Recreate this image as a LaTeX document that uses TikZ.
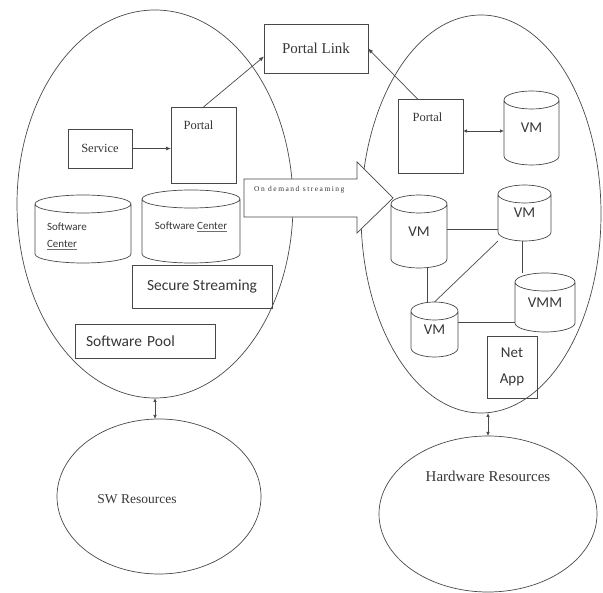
\documentclass[tikz,border=0pt]{standalone}
\usepackage{fontspec}
\usepackage{tikz}
\setmainfont{Liberation Serif}
\newfontfamily\calibfont{Carlito}
\newfontfamily\streamfont[LetterSpace=20]{Liberation Serif}
\usetikzlibrary{shapes.geometric,arrows.meta}
\definecolor{inkgray}{RGB}{72,72,72}
\definecolor{inktext}{RGB}{55,55,55}
\definecolor{spellred}{RGB}{205,70,70}
\newcommand{\drumry}{9pt}
\newcommand{\spellmark}[1]{\textcolor{spellred}{\underline{\textcolor{inktext}{#1}}}}
\newcommand{\drum}[5]{%
  \node[drumbody,minimum width=#3pt,minimum height=#4pt] (#1) at #2 {#5};
  % Outline drawn from the node corners: side walls, lower rim, full top rim.
  \draw[boxline] ([yshift=-\drumry]#1.north west) -- ([yshift=\drumry]#1.south west)
    arc[start angle=180,end angle=360,x radius=#3pt/2,y radius=\drumry]
    -- ([yshift=-\drumry]#1.north east)
    arc[start angle=0,end angle=360,x radius=#3pt/2,y radius=\drumry];
}

\begin{document}
\begin{tikzpicture}[x=1pt,y=-1pt,
    boxline/.style={draw=inkgray,line width=0.7pt},
    plainbox/.style={boxline,rectangle,outer sep=0pt,inner sep=2pt,text=inktext},
    drumbody/.style={rectangle,outer sep=0pt,inner sep=2pt,text=inktext},
    region/.style={boxline,ellipse,outer sep=0pt,inner sep=0pt},
    serifsm/.style={font=\fontsize{12.5}{15}\selectfont},
    sanslg/.style={font=\calibfont\fontsize{15.5}{18}\selectfont},
    sansvm/.style={font=\calibfont\fontsize{15}{26}\selectfont},
    link/.style={draw=inkgray,line width=0.7pt},
    tip/.style={-{Latex[length=5pt,width=4pt]}},
    bothtip/.style={{Latex[length=4pt,width=3.5pt]}-{Latex[length=4pt,width=3.5pt]}}]
  \useasboundingbox (0,0) rectangle (603,593);
  % big regions and the resource pools below them
  \node[region,minimum width=276pt,minimum height=388pt] (swside) at (155,204) {};
  \node[region,minimum width=240pt,minimum height=398pt] (hwside) at (481,214) {};
  \node[region,minimum width=204pt,minimum height=155pt] (swres) at (159,496.5) {};
  \node[region,minimum width=218pt,minimum height=156pt] (hwres) at (488,514) {};
  \node[text=inktext,font=\fontsize{13.5}{16}\selectfont] (swtext)
    at ([xshift=-22pt,yshift=-3pt]swres.center) {SW Resources};
  \node[text=inktext,font=\fontsize{15}{18}\selectfont] (hwtext)
    at ([yshift=38pt]hwres.center) {Hardware Resources};
  \draw[link,bothtip] (swside.south) -- (swside.south |- swres.north);
  \draw[link,bothtip] (hwres.north |- hwside.south) -- (hwres.north);

  % software side
  \node[plainbox,serifsm,minimum width=64pt,minimum height=39pt] (service) at (100,148.5) {Service};
  \node[plainbox,minimum width=65pt,minimum height=76pt] (lportal) at (203.5,145) {};
  \node[serifsm,text=inktext] (lportaltext) at ([xshift=-5pt,yshift=-18pt]lportal.north) {Portal};
  \node[plainbox,font=\fontsize{15}{18}\selectfont,minimum width=104pt,minimum height=49pt]
    (plink) at (316,48.5) {Portal Link};
  \drum{swcenter}{(83,229)}{96}{68}{\calibfont\fontsize{11}{17}\selectfont
    \parbox{72pt}{\vspace*{14pt}Software\\\spellmark{Center}}}
  \drum{swcentre}{(191,226.5)}{98}{73}{\calibfont\fontsize{11}{13}\selectfont
    Software \spellmark{Center}}
  \node[plainbox,sanslg,minimum width=140pt,minimum height=43pt] (secure) at (202,286.5) {Secure Streaming};
  \node[plainbox,sanslg,minimum width=140pt,minimum height=34pt,text width=118pt,align=left]
    (swpool) at (145,341) {Software Pool};
  \draw[link,tip] (service.east) -- (service.east -| lportal.west);
  \draw[link,tip] (lportal.north) -- ([yshift=-8pt]plink.west);

  % streaming arrow across the gap
  \draw[boxline,fill=white] (244,179) -- (357,179) -- (357,162) -- (393,198)
    -- (357,233) -- (357,217) -- (244,217) -- cycle;
  \node[anchor=west,text=inktext,font=\streamfont\fontsize{7.5}{8}\selectfont,inner sep=0pt]
    (ondemand) at (254,190) {On demand streaming};

  % hardware side
  \node[plainbox,minimum width=65pt,minimum height=74pt] (rportal) at (430.5,136) {};
  \node[serifsm,text=inktext] (rportaltext) at ([xshift=-3pt,yshift=-18pt]rportal.north) {Portal};
  \drum{vmtop}{(531.5,128)}{55}{74}{\calibfont\fontsize{15}{18}\selectfont VM}
  \drum{vmleft}{(419,231.5)}{56}{73}{\calibfont\fontsize{15}{18}\selectfont VM}
  \drum{vmright}{(524.5,213)}{53}{56}{\calibfont\fontsize{15}{18}\selectfont VM}
  \drum{vmm}{(545,302.5)}{60}{59}{\calibfont\fontsize{15}{18}\selectfont VMM}
  \drum{vmlow}{(434.5,329.5)}{47}{55}{\calibfont\fontsize{15}{18}\selectfont VM}
  \node[plainbox,sansvm,minimum width=50pt,minimum height=62pt,align=center]
    (netapp) at (512,367) {Net\\App};
  \draw[link,tip] ([xshift=-13pt]rportal.north) -- (plink.east);
  \draw[link,bothtip] ([yshift=5pt]rportal.east) -- ([yshift=5pt]rportal.east -| vmtop.west);
  \draw[link] ([yshift=2pt]vmleft.east) -- ([yshift=2pt]vmleft.east -| vmright.west);
  \draw[link] ([xshift=8pt]vmleft.south) -- ([xshift=8pt]vmleft.south |- vmlow.north);
  \draw[link] (vmlow.north) -- (vmright.south west);
  \draw[link] ([xshift=-2pt]vmright.south) -- ([xshift=-2pt]vmright.south |- vmm.north);
  \draw[link] ([yshift=-19.5pt]vmm.west) -- ([yshift=-19.5pt]vmm.west -| vmlow.east);
\end{tikzpicture}
\end{document}
